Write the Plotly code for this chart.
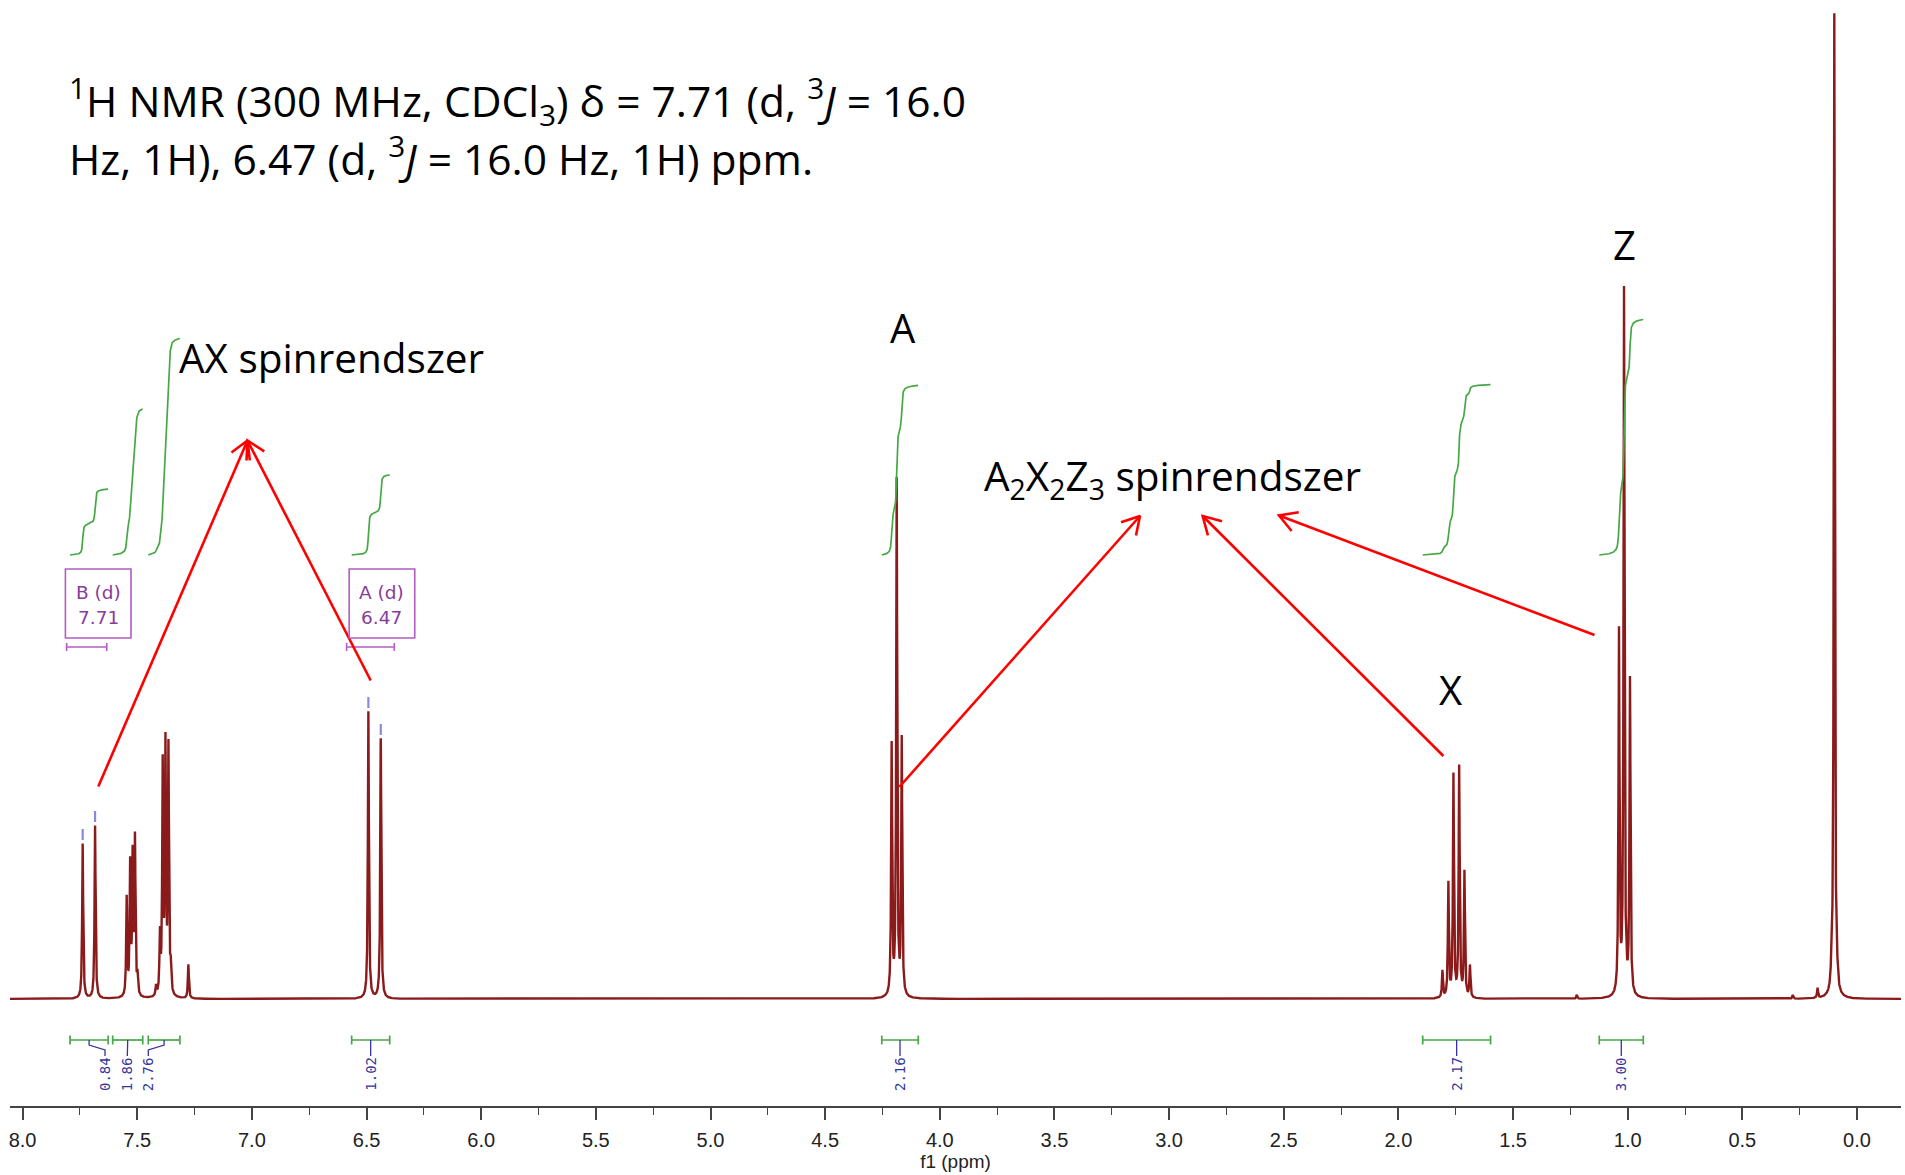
import numpy as np
import plotly.graph_objects as go

# ---------------- data ----------------
peak_ppm = [7.738, 7.684,
            7.546, 7.531, 7.520, 7.510, 7.499,
            7.418, 7.401, 7.389, 7.377, 7.364, 7.354,
            7.277,
            6.492, 6.438,
            4.210, 4.188, 4.166,
            1.808, 1.782, 1.760, 1.735, 1.712, 1.688,
            1.222,
            1.038, 1.016, 0.990,
            0.280, 0.172, 0.112, 0.099, 0.086]
peak_height = [155, 173,
               98, 130, 136, 155, 18,
               10, 58, 228, 246, 246, 24,
               34,
               287, 260,
               250, 515, 256,
               27, 114, 222, 230, 125, 32,
               4,
               362, 705, 315,
               4, 10, 12, 985, 8]

integral_start = [7.793, 7.607, 7.452, 6.565, 4.253, 1.894, 1.124]
integral_end = [7.627, 7.476, 7.314, 6.399, 4.094, 1.598, 0.932]
integral_value = [0.84, 1.86, 2.76, 1.02, 2.16, 2.17, 3.00]

multiplet_name = ["B (d)", "A (d)"]
multiplet_shift = [7.71, 6.47]
multiplet_start = [7.808, 6.587]
multiplet_end = [7.633, 6.379]
picked_peaks = [7.738, 7.684, 6.492, 6.438]

tick_values = [8.0, 7.5, 7.0, 6.5, 6.0, 5.5, 5.0, 4.5, 4.0, 3.5, 3.0, 2.5, 2.0, 1.5, 1.0, 0.5, 0.0]
tick_labels = ["8.0", "7.5", "7.0", "6.5", "6.0", "5.5", "5.0", "4.5", "4.0",
               "3.5", "3.0", "2.5", "2.0", "1.5", "1.0", "0.5", "0.0"]

# ---------------- geometry helpers (pixels -> data) ----------------
W, H = 1905, 1175
PPM0_PX = 1857.0
PX_PER_PPM = 229.3
BASE_PX = 999.0
M_L, M_R, M_T, M_B = 10, 4, 0, 69


def X(px):
    return (PPM0_PX - px) / PX_PER_PPM


def Y(py):
    return BASE_PX - py


def PX(ppm):
    return PPM0_PX - ppm * PX_PER_PPM


XR = [X(M_L), X(W - M_R)]
YR = [Y(H - M_B), Y(M_T)]

SPEC_COLOR = "#8b1b1b"
GREEN = "#45a845"
NAVY = "#34349c"
PURPLE_LINE = "#b35cc4"
PURPLE_TEXT = "#8a3a9c"
RED = "#ff0000"

# ---------------- spectrum ----------------
HWHM = 0.0026
grid = np.arange(8.07, -0.21, -0.0004)
grid = np.union1d(grid, np.array(peak_ppm))[::-1]
spec = np.zeros_like(grid)
for p, h in zip(peak_ppm, peak_height):
    spec += h * HWHM ** 2 / ((grid - p) ** 2 + HWHM ** 2)

fig = go.Figure()
fig.add_trace(go.Scatter(x=grid, y=spec, mode="lines",
                         line=dict(color=SPEC_COLOR, width=2.4), hoverinfo="skip"))

# ---------------- integral curves ----------------
INT_BASE = Y(555)
INT_UNIT = 78.5
for s, e, v in zip(integral_start, integral_end, integral_value):
    m = (grid <= s) & (grid >= e)
    cx = grid[m]
    c = np.cumsum(spec[m])
    c = (c - c[0]) / (c[-1] - c[0]) * v * INT_UNIT + INT_BASE
    fig.add_trace(go.Scatter(x=cx, y=c, mode="lines",
                             line=dict(color=GREEN, width=1.7), hoverinfo="skip"))

# ---------------- integral brackets under the spectrum ----------------
BR = Y(1040)
CAP = 4.5
bx, by = [], []
for s, e in zip(integral_start, integral_end):
    bx += [s, s, None, s, e, None, e, e, None]
    by += [BR + CAP, BR - CAP, None, BR, BR, None, BR + CAP, BR - CAP, None]
fig.add_trace(go.Scatter(x=bx, y=by, mode="lines",
                         line=dict(color=GREEN, width=1.7), hoverinfo="skip"))

label_px = [105, 127.3, 148.3]
cx_list, cy_list = [], []
annotations = []
for i, (s, e, v) in enumerate(zip(integral_start, integral_end, integral_value)):
    c = (s + e) / 2
    lx = X(label_px[i]) if i < len(label_px) else c
    cx_list += [c, c, lx, lx, None]
    cy_list += [BR, Y(1045), Y(1050), Y(1056), None]
    annotations.append(dict(x=lx, y=Y(1074), text=f"{v:.2f}", showarrow=False,
                            textangle=-90, xanchor="center", yanchor="middle",
                            font=dict(family="DejaVu Sans Mono", size=14, color=NAVY)))
fig.add_trace(go.Scatter(x=cx_list, y=cy_list, mode="lines",
                         line=dict(color=NAVY, width=1.3), hoverinfo="skip"))

# ---------------- picked-peak marks ----------------
hmap = dict(zip(peak_ppm, peak_height))
mx, my = [], []
for p in picked_peaks:
    mx += [p, p, None]
    my += [hmap[p] + 4, hmap[p] + 15, None]
fig.add_trace(go.Scatter(x=mx, y=my, mode="lines",
                         line=dict(color="#8a8ad8", width=2.2), hoverinfo="skip"))

# ---------------- multiplet boxes ----------------
shapes = []
px_, py_ = [], []
for name, sh, s, e in zip(multiplet_name, multiplet_shift, multiplet_start, multiplet_end):
    cpx = PX((s + e) / 2) + 11.5
    shapes.append(dict(type="rect", xref="x", yref="y",
                       x0=X(cpx - 32.8), x1=X(cpx + 32.8), y0=Y(638), y1=Y(569),
                       line=dict(color=PURPLE_LINE, width=1.6), fillcolor="rgba(0,0,0,0)"))
    annotations.append(dict(x=X(cpx), y=Y(592), text=name, showarrow=False,
                            font=dict(family="DejaVu Sans", size=18.5, color=PURPLE_TEXT)))
    annotations.append(dict(x=X(cpx), y=Y(617), text=f"{sh:.2f}", showarrow=False,
                            font=dict(family="DejaVu Sans", size=18.5, color=PURPLE_TEXT)))
    yb = Y(647)
    px_ += [s, e, None, s, s, None, e, e, None]
    py_ += [yb, yb, None, yb + 4, yb - 4, None, yb + 4, yb - 4, None]
fig.add_trace(go.Scatter(x=px_, y=py_, mode="lines",
                         line=dict(color=PURPLE_LINE, width=1.6), hoverinfo="skip"))

# ---------------- red arrows ----------------
arrows = [((98.3, 786.5), (247.5, 440.5)),
          ((370.7, 680.5), (247.5, 440.5)),
          ((899.3, 787.0), (1140.0, 516.0)),
          ((1443.4, 756.0), (1202.7, 516.0)),
          ((1594.5, 635.0), (1279.0, 515.5))]
ax_, ay_ = [], []
for (tx, ty), (hx, hy) in arrows:
    ax_ += [X(tx), X(hx), None]
    ay_ += [Y(ty), Y(hy), None]
    bxv, byv = tx - hx, ty - hy
    n = np.hypot(bxv, byv)
    bxv, byv = bxv / n, byv / n
    ang = np.radians(30)
    w1 = (bxv * np.cos(ang) - byv * np.sin(ang), bxv * np.sin(ang) + byv * np.cos(ang))
    w2 = (bxv * np.cos(ang) + byv * np.sin(ang), -bxv * np.sin(ang) + byv * np.cos(ang))
    L = 20
    ax_ += [X(hx + L * w1[0]), X(hx), X(hx + L * w2[0]), None]
    ay_ += [Y(hy + L * w1[1]), Y(hy), Y(hy + L * w2[1]), None]
fig.add_trace(go.Scatter(x=ax_, y=ay_, mode="lines",
                         line=dict(color=RED, width=2.6), hoverinfo="skip"))

# ---------------- texts ----------------
TXT = dict(family="Open Sans", color="black")
annotations += [
    dict(x=X(67), y=Y(101), xanchor="left", yanchor="middle", showarrow=False,
         text="<sup>1</sup>H NMR (300 MHz, CDCl<sub>3</sub>) δ = 7.71 (d, <sup>3</sup><i>J</i> = 16.0",
         font=dict(size=42.5, **TXT)),
    dict(x=X(67), y=Y(156), xanchor="left", yanchor="middle", showarrow=False,
         text="Hz, 1H), 6.47 (d, <sup>3</sup><i>J</i> = 16.0 Hz, 1H) ppm.",
         font=dict(size=42.5, **TXT)),
    dict(x=X(177), y=Y(357), xanchor="left", yanchor="middle", showarrow=False,
         text="AX spinrendszer", font=dict(size=40.5, **TXT)),
    dict(x=X(982), y=Y(478), xanchor="left", yanchor="middle", showarrow=False,
         text="A<sub>2</sub>X<sub>2</sub>Z<sub>3</sub> spinrendszer", font=dict(size=40.5, **TXT)),
    dict(x=X(902.5), y=Y(327), showarrow=False, text="A", font=dict(size=40, **TXT)),
    dict(x=X(1624.5), y=Y(244), showarrow=False, text="Z", font=dict(size=40, **TXT)),
    dict(x=X(1450.5), y=Y(689), showarrow=False, text="X", font=dict(size=40, **TXT)),
]

fig.update_layout(
    width=W, height=H,
    margin=dict(l=M_L, r=M_R, t=M_T, b=M_B, pad=0),
    paper_bgcolor="white", plot_bgcolor="white",
    showlegend=False,
    shapes=shapes,
    annotations=annotations,
    xaxis=dict(range=XR, showgrid=False, zeroline=False,
               tickmode="array", tickvals=tick_values, ticktext=tick_labels,
               ticks="outside", ticklen=12, tickwidth=1.5, tickcolor="#444",
               showline=True, linecolor="#444", linewidth=1.5,
               ticklabelstandoff=3,
               tickfont=dict(family="Liberation Sans", size=20, color="#222"),
               minor=dict(ticks="outside", ticklen=7, tickwidth=1.2, tickcolor="#444",
                          dtick=0.25, tick0=0, showgrid=False),
               title=dict(text="f1 (ppm)", standoff=3,
                          font=dict(family="Liberation Sans", size=19, color="#222"))),
    yaxis=dict(range=YR, visible=False, showgrid=False, zeroline=False),
)

fig.write_html("out.html")
